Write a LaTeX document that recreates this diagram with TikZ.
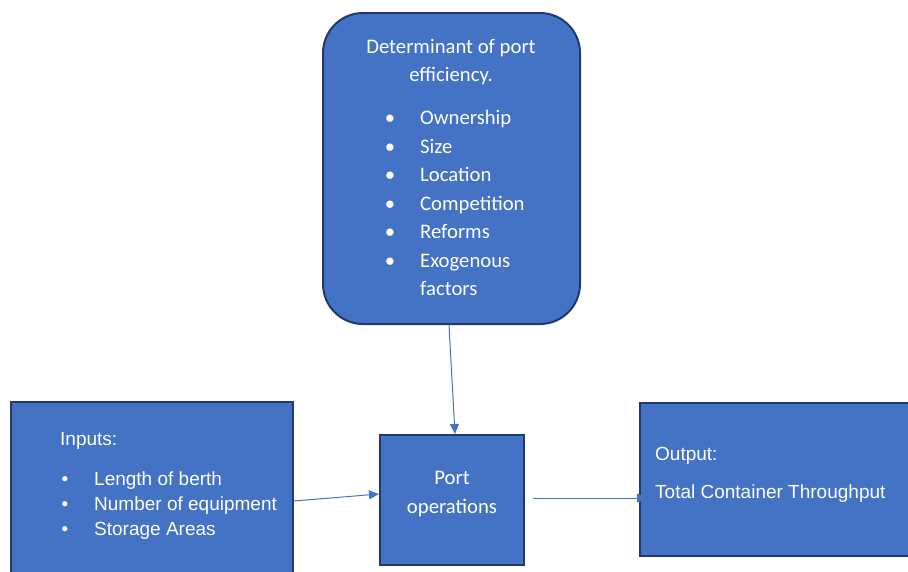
\documentclass[tikz,border=0pt]{standalone}
\usepackage{fontspec}
\setmainfont{Liberation Sans}
\newfontfamily\calibri{Carlito}
\usetikzlibrary{arrows.meta}
\definecolor{boxblue}{HTML}{4472C4}
\definecolor{boxline}{HTML}{223A6B}
\definecolor{arrowblue}{HTML}{4472C4}
\tikzstyle{roundbox} = [rectangle, rounded corners=40pt, draw=boxline, fill=boxblue, line width=2pt]
\tikzstyle{plainbox} = [rectangle, draw=boxline, fill=boxblue, line width=2pt]
\tikzstyle{caltext} = [text=white, inner sep=0pt, font=\calibri\fontsize{20.7}{28.5}\selectfont]
\tikzstyle{arialtext} = [text=white, inner sep=0pt, font=\fontsize{19}{25}\selectfont]
\tikzstyle{arrow} = [line width=1pt, draw=arrowblue, -{Triangle[length=10pt,width=9pt]}]

\begin{document}
\begin{tikzpicture}[x=1pt,y=-1pt]
\clip (0,0) rectangle (908,571);

% boxes
\node (det) [roundbox, minimum width=257pt, minimum height=311pt] at (451.5,168.5) {};
\node (inputs) [plainbox, minimum width=282pt, minimum height=198pt] at (152,501) {};
\node (port) [plainbox, minimum width=144pt, minimum height=130pt] at (452,500) {};
\node (output) [plainbox, minimum width=280pt, minimum height=153pt] at (780,479.5) {};

% determinants
\node (dettitle) [caltext, anchor=base] at (451,53.5) {Determinant of port};
\node (dettitleb) [caltext, anchor=base] at (451,81.5) {efficiency.};
\foreach \entry [count=\i from 0] in {Ownership, Size, Location, Competition, Reforms, Exogenous} {
  \node (detbullet\i) [caltext, anchor=base] at (390,124.5+28.6*\i) {•};
  \node (detitem\i) [caltext, anchor=base west] at (420,124.5+28.6*\i) {\entry};
}
\node (detitem6) [caltext, anchor=base west] at (420,295.5) {factors};

% inputs
\node (intitle) [arialtext, anchor=base west] at (60,445) {Inputs:};
\foreach \entry [count=\i from 0] in {Length of berth, Number of equipment, Storage Areas} {
  \node (inbullet\i) [arialtext, anchor=base] at (65,485+25*\i) {\textbullet};
  \node (initem\i) [arialtext, anchor=base west] at (94,485+25*\i) {\entry};
}

% port operations
\node (porttext) [caltext, anchor=base] at (452,484.5) {Port};
\node (porttextb) [caltext, anchor=base] at (452,513.5) {operations};

% output
\node (outtitle) [arialtext, anchor=base west] at (655,460) {Output:};
\node (outtext) [arialtext, anchor=base west] at (655,498.5) {Total Container Throughput};

\draw [arrow] ([xshift=-2.5pt]det.south) -- ([xshift=3pt]port.north);
\draw [arrow] (inputs.east) -- ([yshift=6pt]port.west);
\draw [arrow] ([xshift=8pt,yshift=2pt]port.east) -- ([xshift=8pt,yshift=2pt]port.east -| output.west);

\end{tikzpicture}
\end{document}
